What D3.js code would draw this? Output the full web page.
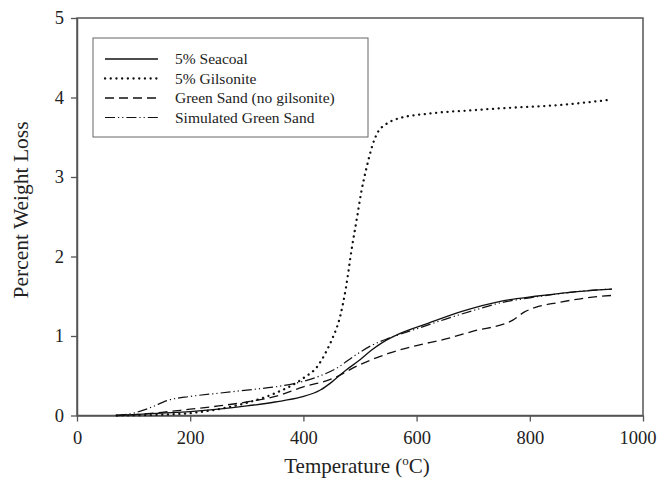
<!DOCTYPE html>
<html>
<head>
<meta charset="utf-8">
<script src="https://cdn.jsdelivr.net/npm/d3@7"></script>
<style>
  body { margin: 0; background: #fff; }
  text { font-family: "Liberation Serif", "DejaVu Serif", serif; }
</style>
</head>
<body>
<div id="chart"></div>
<script>
// data: [temperature, percent weight loss]
const seacoal = [[70,0],[100,0.01],[150,0.03],[200,0.05],[250,0.08],[300,0.12],[350,0.17],[395,0.23],[430,0.32],[450,0.42],[475,0.57],[500,0.70],[520,0.82],[540,0.92],[570,1.03],[620,1.16],[680,1.31],[750,1.44],[810,1.50],[870,1.55],[945,1.59]]
const gilsonite = [[70,0],[150,0.01],[200,0.03],[250,0.08],[300,0.16],[350,0.28],[400,0.47],[425,0.62],[440,0.80],[450,0.95],[465,1.25],[475,1.6],[485,2.08],[495,2.5],[502,2.8],[512,3.13],[522,3.4],[532,3.57],[545,3.66],[565,3.73],[625,3.80],[700,3.84],[740,3.86],[860,3.91],[940,3.97]]
const greenSand = [[70,0],[100,0.01],[150,0.04],[200,0.08],[250,0.12],[300,0.17],[350,0.24],[400,0.36],[450,0.46],[500,0.64],[550,0.78],[600,0.88],[650,0.96],[700,1.06],[770,1.20],[790,1.30],[810,1.36],[850,1.42],[900,1.48],[945,1.51]]
const simulated = [[70,0],[100,0.03],[130,0.10],[160,0.19],[200,0.24],[250,0.28],[300,0.32],[350,0.36],[400,0.43],[430,0.50],[460,0.60],[490,0.75],[520,0.88],[550,0.97],[600,1.09],[650,1.21],[700,1.32],[750,1.42],[800,1.48],[850,1.53],[900,1.57],[945,1.59]]

const seriesNames = ["5% Seacoal", "5% Gilsonite", "Green Sand (no gilsonite)", "Simulated Green Sand"]
const xTicks = [0, 200, 400, 600, 800, 1000]
const yTicks = [0, 1, 2, 3, 4, 5]

let margin = { top: 18, right: 14, bottom: 67.5, left: 77 },
    width = 657 - margin.left - margin.right,
    height = 483 - margin.top - margin.bottom;

let svg = d3.select("#chart").append("svg")
    .attr("width", 657)
    .attr("height", 483)

let g = svg.append("g")
    .attr("transform", "translate(" + margin.left + "," + margin.top + ")")

var x = d3.scaleLinear().domain([0, 1000]).range([0, width])
var y = d3.scaleLinear().domain([0, 5]).range([height, 0])

// frame
g.append("rect")
    .attr("width", width)
    .attr("height", height)
    .attr("fill", "none")
    .attr("stroke", "#555")
    .attr("stroke-width", 1.5)

let xAxis = g.append("g")
    .attr("transform", "translate(0," + height + ")")
    .call(d3.axisBottom(x).tickValues(xTicks).tickFormat(d3.format("d")).tickSize(6).tickSizeOuter(0).tickPadding(9))
let yAxis = g.append("g")
    .call(d3.axisLeft(y).tickValues(yTicks).tickFormat(d3.format("d")).tickSize(6).tickSizeOuter(0).tickPadding(7))

for (let ax of [xAxis, yAxis]) {
    ax.select(".domain").attr("stroke", "#555").attr("stroke-width", 1.5)
    ax.selectAll(".tick line").attr("stroke", "#555").attr("stroke-width", 1.3)
    ax.selectAll(".tick text")
        .attr("font-family", "Liberation Serif")
        .attr("font-size", 18.5)
        .attr("fill", "#222")
}
// last x label sits against the right edge in the original
xAxis.selectAll(".tick text").filter(d => d == 1000).attr("text-anchor", "end").attr("dx", 13)

// curves
let line = d3.line()
    .x(d => x(d[0]))
    .y(d => y(d[1]))
    .curve(d3.curveMonotoneX)

let styles = [
    { data: seacoal, dash: null, width: 1.3, cap: "butt" },
    { data: gilsonite, dash: "0.1,5.6", width: 2.3, cap: "round" },
    { data: greenSand, dash: "9,5", width: 1.3, cap: "butt" },
    { data: simulated, dash: "10,3,1.2,3,1.2,3", width: 1.2, cap: "butt" }
]

for (let s of styles) {
    g.append("path")
        .datum(s.data)
        .attr("d", line)
        .attr("fill", "none")
        .attr("stroke", "#111")
        .attr("stroke-width", s.width)
        .attr("stroke-linecap", s.cap)
        .attr("stroke-dasharray", s.dash)
}

// legend
let legend = svg.append("g")
legend.append("rect")
    .attr("x", 93).attr("y", 38)
    .attr("width", 275).attr("height", 99)
    .attr("fill", "#fff")
    .attr("stroke", "#666")
    .attr("stroke-width", 1)

seriesNames.forEach(function (name, i) {
    let yy = 59 + i * 19.5
    legend.append("line")
        .attr("x1", 105).attr("x2", 158)
        .attr("y1", yy).attr("y2", yy)
        .attr("stroke", "#111")
        .attr("stroke-width", styles[i].width)
        .attr("stroke-linecap", styles[i].cap)
        .attr("stroke-dasharray", styles[i].dash)
    legend.append("text")
        .attr("x", 175).attr("y", yy + 5)
        .attr("font-size", 15.5)
        .attr("fill", "#222")
        .text(name)
})

// axis titles
let xt = svg.append("text")
    .attr("x", 357).attr("y", 473)
    .attr("text-anchor", "middle")
    .attr("font-size", 21)
    .attr("fill", "#222")
xt.append("tspan").text("Temperature (")
xt.append("tspan").attr("font-size", 13).attr("dy", -8).text("o")
xt.append("tspan").attr("dy", 8).text("C)")

svg.append("text")
    .attr("transform", "translate(28,210) rotate(-90)")
    .attr("text-anchor", "middle")
    .attr("font-size", 21.5)
    .attr("fill", "#222")
    .text("Percent Weight Loss")
</script>
</body>
</html>
